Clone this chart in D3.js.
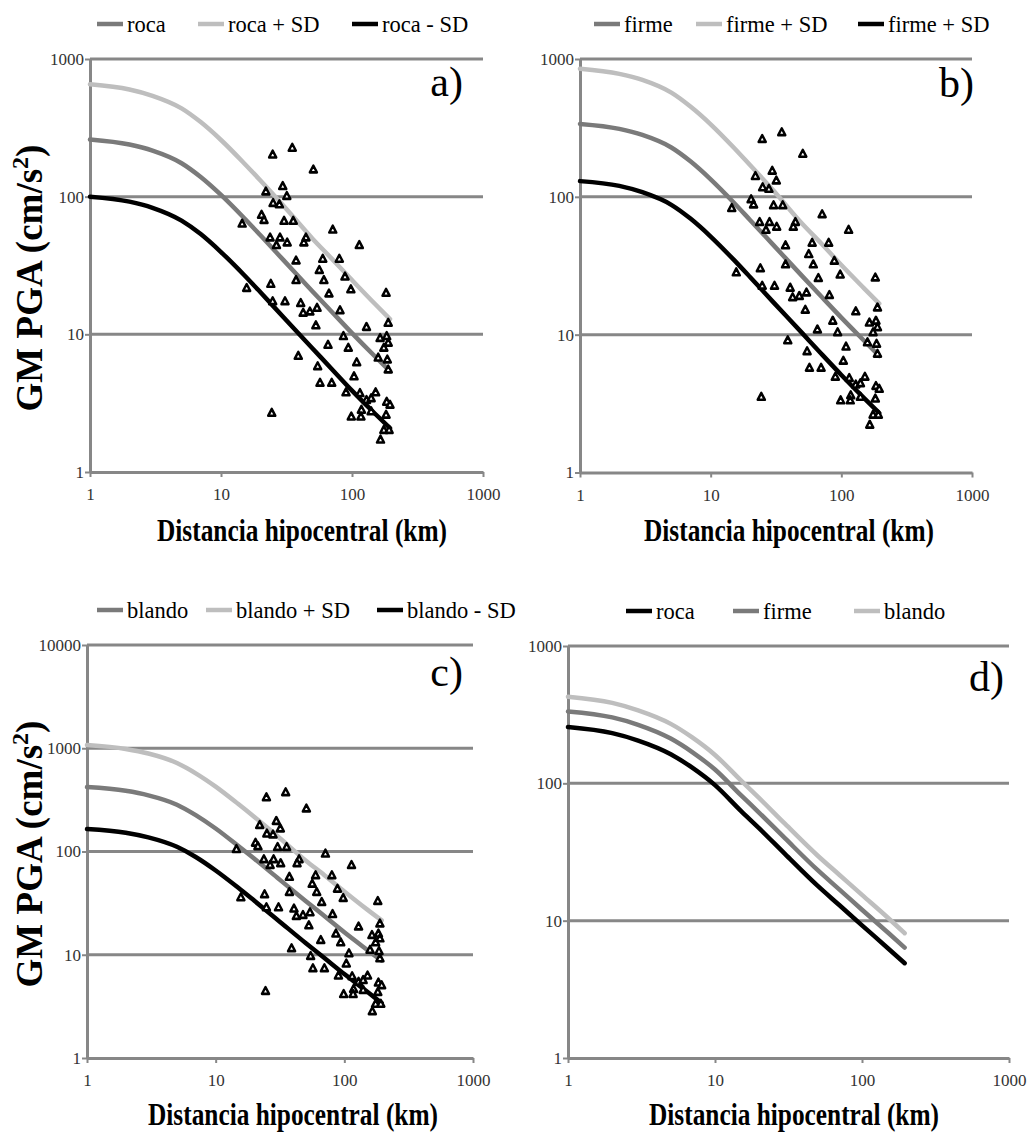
<!DOCTYPE html>
<html>
<head>
<meta charset="utf-8">
<script src="https://cdn.jsdelivr.net/npm/d3@7"></script>
<style>
	body { margin: 0; background: #fff; }
	text { font-family: "Liberation Serif", "Times New Roman", serif; }
</style>
</head>
<body>
<div id="chart"></div>
<script>
// distances (km) where the model curves were read
const distGrid = [1, 2, 3, 5, 7, 10, 15, 20, 30, 50, 70, 100, 150, 195];

// a) roca
const rocaA = [260, 239, 216, 175, 139, 103, 70, 52.4, 34.6, 20.5, 14.6, 10.2, 6.9, 5.4];
const rocaPlusA = [655, 600, 540, 438, 348, 258, 175, 131, 86, 49.5, 35.5, 24.8, 16.6, 12.9];
const rocaMinusA = [100, 92, 83, 67, 53.5, 39.6, 27, 20.2, 13.3, 7.9, 5.6, 3.9, 2.65, 2.08];
// b) firme
const firmeB = [338, 311, 281, 228, 181, 134, 91, 68, 45, 26.7, 19, 13.3, 9, 7.0];
const firmePlusB = [850, 780, 705, 570, 452, 336, 228, 170, 112, 64, 46, 32, 21.6, 16.8];
const firmeMinusB = [130, 120, 108, 87.5, 69.5, 51.5, 35, 26.2, 17.3, 10.3, 7.3, 5.1, 3.45, 2.7];
// c) blando
const blandoC = [421, 387, 350, 284, 225, 167, 113, 85, 56, 33.2, 23.7, 16.5, 11.2, 8.75];
const blandoPlusC = [1075, 985, 890, 720, 572, 425, 288, 216, 142, 82, 59, 41, 27.5, 21.5];
const blandoMinusC = [165, 152, 137, 111, 88.5, 65.5, 44.5, 33.3, 22, 13, 9.3, 6.5, 4.4, 3.4];
// d) comparison of the three site classes
const rocaD = [257, 232, 205, 163, 130, 97, 63, 47, 30.5, 17.9, 13, 9.25, 6.3, 4.9];
const firmeD = [334, 302, 267, 212, 169, 126, 82, 61, 39.7, 23.3, 16.9, 12, 8.2, 6.37];
const blandoD = [427, 385, 340, 271, 216, 161, 105, 78, 50.6, 29.7, 21.6, 15.4, 10.5, 8.1];

// observed records (same distances in a, b, c)
const distObs = [24.8, 35, 50.7, 22, 29.6, 31.8, 25, 27.9, 14.5, 20.4,
	21.3, 30.3, 35.6, 71.3, 113.7, 23.7, 28.2, 26.5, 32, 44.5,
	42.9, 37.4, 59.8, 80, 56.3, 37.4, 61, 88.4, 98, 66.7,
	15.7, 24, 182, 24.8, 30.8, 40.6, 42.4, 47.7, 54.1, 81,
	53, 129, 164, 184, 189, 86, 65.6, 93.7, 38.9, 108.6,
	158.5, 186, 189, 54.7, 103.6, 57, 70, 90, 115, 129,
	151.5, 184, 195, 118, 140, 98.8, 117, 182, 175, 192,
	165, 24.4, 189, 175, 140];
const pgaRoca = [200, 224, 156, 108, 118, 100, 89, 87, 63, 73,
	67, 66, 66, 57, 44, 50, 50, 44, 46, 50,
	46, 34, 35, 35, 29, 24.5, 24.5, 26, 21, 19.6,
	21.5, 23, 19.8, 17.2, 17.2, 16.7, 14.2, 14.5, 15.4, 14.8,
	11.5, 11.2, 9.3, 9.6, 8.6, 9.6, 8.3, 7.9, 6.9, 6.2,
	6.7, 6.5, 5.5, 5.8, 4.9, 4.4, 4.4, 3.75, 3.7, 3.3,
	3.75, 3.2, 3.05, 2.8, 2.73, 2.5, 2.5, 2.58, 2.0, 2.0,
	1.7, 2.66, 12, 7.9, 3.4];
const pgaFirme = [260, 291, 203, 140, 153, 130, 116, 113, 82, 95,
	87, 86, 86, 74, 57, 65, 65, 57, 60, 65,
	60, 44, 46, 46, 38, 32, 32, 34, 27, 25.5,
	28, 30, 25.7, 22.4, 22.4, 21.7, 18.5, 18.9, 20, 19.2,
	15, 14.6, 12.1, 12.5, 11.2, 12.5, 10.8, 10.3, 9, 8.1,
	8.7, 8.5, 7.2, 7.5, 6.4, 5.7, 5.7, 4.9, 4.8, 4.3,
	4.9, 4.2, 4, 3.6, 3.5, 3.3, 3.3, 3.4, 2.6, 2.6,
	2.2, 3.5, 15.6, 10.3, 4.4];
const pgaBlando = [330, 370, 257, 178, 195, 165, 147, 144, 104, 120,
	111, 109, 109, 94, 73, 83, 83, 73, 76, 83,
	76, 56, 58, 58, 48, 40, 40, 43, 35, 32,
	35.5, 38, 32.7, 28.4, 28.4, 27.6, 23.4, 23.9, 25.4, 24.4,
	19, 18.5, 15.3, 15.8, 14.2, 15.8, 13.7, 13, 11.4, 10.2,
	11, 10.7, 9.1, 9.6, 8.1, 7.3, 7.3, 6.2, 6.1, 5.4,
	6.2, 5.3, 5, 4.6, 4.5, 4.1, 4.1, 4.3, 3.3, 3.3,
	2.8, 4.4, 19.8, 13, 5.6];

const xTicks = [1, 10, 100, 1000];
const yTicks3 = [1, 10, 100, 1000];
const yTicks4 = [1, 10, 100, 1000, 10000];

const GRID = '#878787';
const MID = '#7a7a7a';
const LIGHT = '#bebebe';
const DARK = '#000';
const X_TITLE = 'Distancia hipocentral (km)';

const svg = d3.select('#chart').append('svg')
	.attr('width', 1032)
	.attr('height', 1135)
	.style('background', '#fff');

const panels = [
	{
		x0: 90, x1: 483, y0: 59, y1: 472, yTicks: yTicks3,
		series: [[rocaA, MID, 'roca'], [rocaPlusA, LIGHT, 'roca + SD'], [rocaMinusA, DARK, 'roca - SD']],
		obs: pgaRoca,
		legend: {y: 24, x: [97, 198, 352]},
		label: {text: 'a)', x: 463, y: 96},
		xTitle: {x: 302, y: 541},
		yTitle: {x: 42, y: 278}
	},
	{
		x0: 580, x1: 972, y0: 59, y1: 472.5, yTicks: yTicks3,
		series: [[firmeB, MID, 'firme'], [firmePlusB, LIGHT, 'firme + SD'], [firmeMinusB, DARK, 'firme + SD']],
		obs: pgaFirme,
		legend: {y: 24, x: [594, 696, 858]},
		label: {text: 'b)', x: 974, y: 97},
		xTitle: {x: 789, y: 541}
	},
	{
		x0: 87, x1: 473, y0: 645, y1: 1058, yTicks: yTicks4,
		series: [[blandoC, MID, 'blando'], [blandoPlusC, LIGHT, 'blando + SD'], [blandoMinusC, DARK, 'blando - SD']],
		obs: pgaBlando,
		legend: {y: 610, x: [97, 206, 377]},
		label: {text: 'c)', x: 463, y: 686},
		xTitle: {x: 293, y: 1125},
		yTitle: {x: 42, y: 854}
	},
	{
		x0: 568, x1: 1009, y0: 646, y1: 1058, yTicks: yTicks3,
		series: [[rocaD, DARK, 'roca'], [firmeD, MID, 'firme'], [blandoD, LIGHT, 'blando']],
		obs: null,
		legend: {y: 611, x: [626, 733, 854]},
		label: {text: 'd)', x: 1004, y: 691},
		xTitle: {x: 794, y: 1125}
	}
];

function styleAxis(g) {
	g.attr('font-family', null).attr('font-size', null);
	g.select('.domain').attr('stroke', GRID).attr('stroke-width', 3);
	g.selectAll('.tick line').attr('stroke', GRID).attr('stroke-width', 2);
	g.selectAll('.tick text')
		.attr('fill', '#333')
		.style('font-size', '17px');
}

function drawPanel(p) {
	const x = d3.scaleLog().domain([1, 1000]).range([p.x0, p.x1]);
	const y = d3.scaleLog().domain([1, d3.max(p.yTicks)]).range([p.y1, p.y0]);
	const g = svg.append('g');

	// horizontal gridlines
	g.append('g')
		.selectAll('line')
		.data(p.yTicks.slice(1))
		.join('line')
		.attr('x1', p.x0)
		.attr('x2', p.x1)
		.attr('y1', d => y(d))
		.attr('y2', d => y(d))
		.attr('stroke', GRID)
		.attr('stroke-width', 3);

	const xAxis = d3.axisBottom(x)
		.tickValues(xTicks)
		.tickFormat(d3.format('d'))
		.tickSize(5)
		.tickSizeOuter(0)
		.tickPadding(11);
	g.append('g')
		.attr('transform', `translate(0,${p.y1})`)
		.call(xAxis)
		.call(styleAxis);

	const yAxis = d3.axisLeft(y)
		.tickValues(p.yTicks)
		.tickFormat(d3.format('d'))
		.tickSize(5)
		.tickSizeOuter(0)
		.tickPadding(1);
	g.append('g')
		.attr('transform', `translate(${p.x0},0)`)
		.call(yAxis)
		.call(styleAxis);

	// model curves
	const line = d3.line()
		.x((d, i) => x(distGrid[i]))
		.y(d => y(d))
		.curve(d3.curveMonotoneX);
	g.append('g')
		.selectAll('path')
		.data(p.series)
		.join('path')
		.attr('d', d => line(d[0]))
		.attr('fill', 'none')
		.attr('stroke', d => d[1])
		.attr('stroke-width', 4.5)
		.attr('stroke-linecap', 'round');

	// observed records
	if (p.obs) {
		g.append('g')
			.selectAll('path')
			.data(d3.zip(distObs, p.obs))
			.join('path')
			.attr('transform', d => `translate(${x(d[0])},${y(d[1])}) scale(1,1.1)`)
			.attr('d', d3.symbol(d3.symbolTriangle, 22))
			.attr('fill', '#fff')
			.attr('stroke', '#000')
			.attr('stroke-width', 2.4)
			.attr('stroke-linejoin', 'round');
	}

	// legend
	const leg = g.append('g');
	p.series.forEach((s, i) => {
		const sx = p.legend.x[i];
		leg.append('line')
			.attr('x1', sx).attr('x2', sx + 26)
			.attr('y1', p.legend.y).attr('y2', p.legend.y)
			.attr('stroke', s[1])
			.attr('stroke-width', 4.5);
		leg.append('text')
			.attr('x', sx + 30)
			.attr('y', p.legend.y + 8)
			.style('font-size', '22.5px')
			.text(s[2]);
	});

	// panel letter
	g.append('text')
		.attr('x', p.label.x)
		.attr('y', p.label.y)
		.attr('text-anchor', 'end')
		.style('font-size', '42px')
		.text(p.label.text);

	// x title
	g.append('text')
		.attr('x', p.xTitle.x)
		.attr('y', p.xTitle.y)
		.attr('text-anchor', 'middle')
		.attr('textLength', 290)
		.attr('lengthAdjust', 'spacingAndGlyphs')
		.style('font-size', '31px')
		.style('font-weight', 'bold')
		.text(X_TITLE);

	// y title
	if (p.yTitle) {
		const t = g.append('text')
			.attr('transform', `translate(${p.yTitle.x},${p.yTitle.y}) rotate(-90)`)
			.attr('text-anchor', 'middle')
			.style('font-size', '37px')
			.style('font-weight', 'bold');
		t.append('tspan').text('GM PGA (cm/s');
		t.append('tspan').attr('dy', -14).style('font-size', '24px').text('2');
		t.append('tspan').attr('dy', 14).text(')');
	}
}

panels.forEach(drawPanel);
</script>
</body>
</html>
